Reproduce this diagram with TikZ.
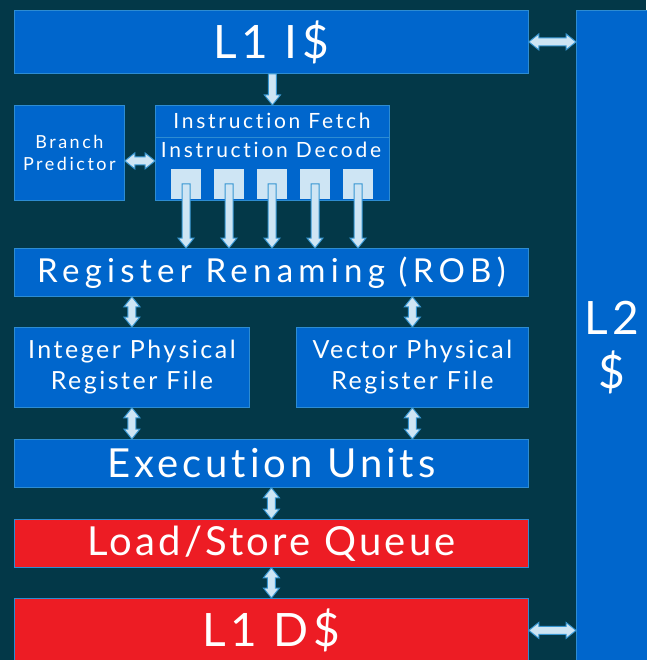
\documentclass[tikz,border=0pt]{standalone}
\usepackage{fontspec}
\setmainfont{Lato}[LetterSpace=10, Ligatures=NoCommon]
\usetikzlibrary{calc}

\definecolor{bg}{RGB}{3,56,72}
\definecolor{boxblue}{RGB}{0,102,204}
\definecolor{boxline}{RGB}{45,140,210}
\definecolor{boxred}{RGB}{237,28,36}
\definecolor{pale}{RGB}{206,229,244}
\definecolor{arrline}{RGB}{55,150,210}

% fat block arrows (all sizes in pt)
\newlength\hw \setlength\hw{8pt}  % half width of head
\newlength\sw \setlength\sw{4pt}  % half width of shaft
\newlength\hl \setlength\hl{10pt} % length of head

% vertical, two heads: #1 upper end, #2 lower end
\newcommand\vboth[2]{%
  \draw[fatarrow] let \p1=#1, \p2=#2 in
    (\x1,\y1) -- (\x1+\hw,\y1-\hl) -- (\x1+\sw,\y1-\hl) -- (\x1+\sw,\y2+\hl)
    -- (\x1+\hw,\y2+\hl) -- (\x1,\y2) -- (\x1-\hw,\y2+\hl) -- (\x1-\sw,\y2+\hl)
    -- (\x1-\sw,\y1-\hl) -- (\x1-\hw,\y1-\hl) -- cycle;}
% vertical, one head pointing down: #1 tail, #2 tip
\newcommand\vdown[2]{%
  \draw[fatarrow] let \p1=#1, \p2=#2 in
    (\x1-\sw,\y1) -- (\x1+\sw,\y1) -- (\x1+\sw,\y2+\hl) -- (\x1+\hw,\y2+\hl)
    -- (\x1,\y2) -- (\x1-\hw,\y2+\hl) -- (\x1-\sw,\y2+\hl) -- cycle;}
% horizontal, two heads: #1 left end, #2 right end
\newcommand\hboth[2]{%
  \draw[fatarrow] let \p1=#1, \p2=#2 in
    (\x1,\y1) -- (\x1+\hl,\y1+\hw) -- (\x1+\hl,\y1+\sw) -- (\x2-\hl,\y1+\sw)
    -- (\x2-\hl,\y1+\hw) -- (\x2,\y1) -- (\x2-\hl,\y1-\hw) -- (\x2-\hl,\y1-\sw)
    -- (\x1+\hl,\y1-\sw) -- (\x1+\hl,\y1-\hw) -- cycle;}

\newcommand\fs[1]{\fontsize{#1}{#1}\selectfont}

\begin{document}
\begin{tikzpicture}[x=1pt,y=-1pt,
  box/.style={draw=boxline, line width=0.8pt, fill=boxblue, text=white,
    inner sep=0pt, anchor=north west, align=center},
  redbox/.style={box, fill=boxred},
  lbl/.style={text=white, inner sep=0pt, align=center},
  sq/.style={fill=pale, minimum size=30pt, inner sep=0pt},
  fatarrow/.style={fill=pale, draw=arrline, line width=1pt, line join=miter}]

\useasboundingbox[fill=bg] (0,0) rectangle (646,660);

% caches and pipeline blocks
\node[box, minimum width=514pt, minimum height=63pt, font=\fs{46}] (l1i) at (14,10) {L1 I\$};
\node[box, minimum width=80pt, minimum height=690pt] (l2) at (576,10) {};
\node[lbl, font=\fs{46}, align=center] (l2t) at (612,348) {L2\\[8pt]\$};

\node[box, minimum width=110pt, minimum height=95pt, font=\fs{18}\addfontfeatures{LetterSpace=14}] (bp) at (14,105)
  {Branch\\[4pt]Predictor};
\node[box, minimum width=234pt, minimum height=95pt] (ifd) at (155,105) {};
\draw[boxline, line width=0.8pt] (ifd.west |- 0,137) -- (ifd.east |- 0,137);
\node[lbl, font=\fs{21}\addfontfeatures{LetterSpace=13}] (fetch) at (272,121) {Instruction Fetch};
\node[lbl, font=\fs{21}\addfontfeatures{LetterSpace=13}] (decode) at (271,150) {Instruction Decode};

\node[sq] (s1) at (186,184) {};
\node[sq] (s2) at (229,184) {};
\node[sq] (s3) at (272,184) {};
\node[sq] (s4) at (315,184) {};
\node[sq] (s5) at (358,184) {};

\node[box, minimum width=514pt, minimum height=48pt, font=\fs{33}\addfontfeatures{LetterSpace=16}] (rr) at (14,248)
  {Register Renaming (ROB)};
\node[box, minimum width=235pt, minimum height=80pt, font=\fs{25}] (ipr) at (14,327)
  {Integer Physical\\[6pt]Register File};
\node[box, minimum width=232pt, minimum height=80pt, font=\fs{25}] (vpr) at (296,327)
  {Vector Physical\\[6pt]Register File};
\node[box, minimum width=514pt, minimum height=48pt, font=\fs{40}] (exec) at (14,439)
  {Execution Units};
\node[redbox, minimum width=514pt, minimum height=48pt, font=\fs{40}\addfontfeatures{LetterSpace=8}] (lsq) at (14,519)
  {Load/Store Queue};
\node[redbox, minimum width=514pt, minimum height=64pt, font=\fs{46}] (l1d) at (14,598)
  {L1 D\$};

% connectors
\vdown{(l1i.south -| ifd.north)}{(ifd.north)}
\coordinate (bparr) at ($(bp.east)+(0,-8pt)$);
\hboth{(bparr)}{(bparr -| ifd.west)}
\foreach \s in {s1,s2,s3,s4,s5}
  \vdown{(\s.center)}{(rr.north -| \s.center)};
\vboth{(rr.south -| ipr.north)}{(ipr.north)}
\vboth{(rr.south -| vpr.north)}{(vpr.north)}
\vboth{(ipr.south)}{(exec.north -| ipr.south)}
\vboth{(vpr.south)}{(exec.north -| vpr.south)}
\vboth{(exec.south -| lsq.north)}{(lsq.north)}
\vboth{(lsq.south)}{(l1d.north -| lsq.south)}
\hboth{(l1i.east)}{(l2.west |- l1i.east)}
\hboth{(l1d.east)}{(l2.west |- l1d.east)}
\end{tikzpicture}
\end{document}
